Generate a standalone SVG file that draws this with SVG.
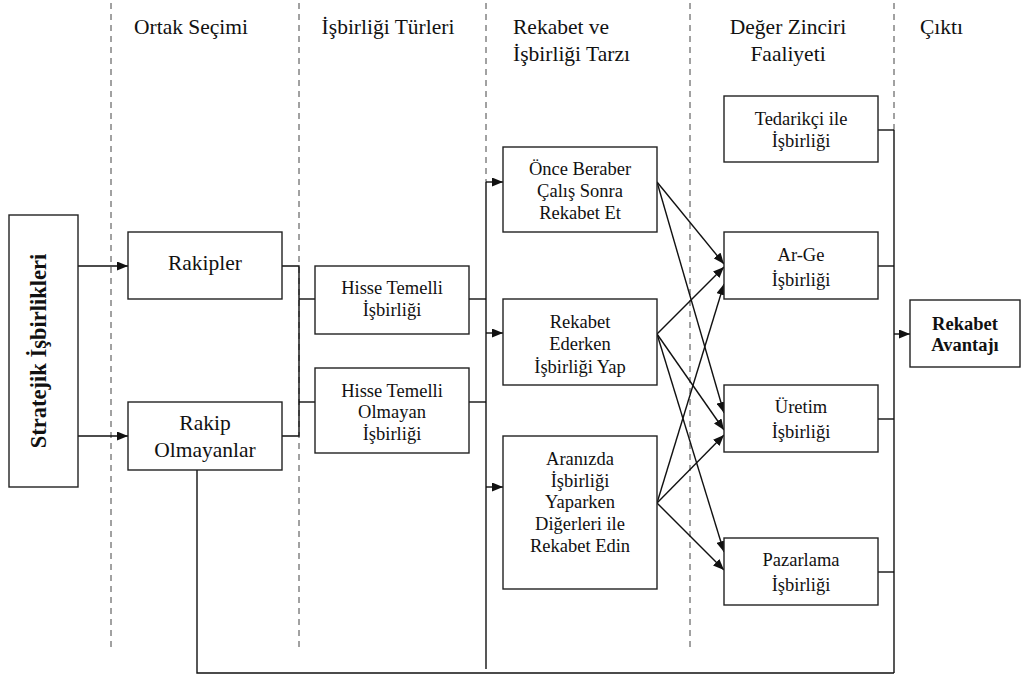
<svg xmlns="http://www.w3.org/2000/svg" width="1022" height="675" viewBox="0 0 1022 675">
<defs>
<style>
.bx{fill:#fff;stroke:#222;stroke-width:1.4}
.ln{fill:none;stroke:#111;stroke-width:1.4}
.ar{fill:none;stroke:#111;stroke-width:1.4;marker-end:url(#ah)}
.ds{fill:none;stroke:#444;stroke-width:1;stroke-dasharray:6 5}
text{font-family:"Liberation Serif","Times New Roman",serif;fill:#111}
.hd{font-size:21.5px}
.t{font-size:18.5px;text-anchor:middle}
.tl{font-size:21.5px;text-anchor:middle}
.b{font-weight:bold}
</style>
<marker id="ah" markerUnits="userSpaceOnUse" markerWidth="11" markerHeight="9" refX="11" refY="4.5" orient="auto">
<path d="M0,0 L11,4.5 L0,9 z" fill="#111"/>
</marker>
</defs>
<rect width="1022" height="675" fill="#fff"/>
<g id="lanes">
<line class="ds" x1="111" y1="3" x2="111" y2="651"/>
<line class="ds" x1="299" y1="3" x2="299" y2="651"/>
<line class="ds" x1="486" y1="3" x2="486" y2="182"/>
<line class="ds" x1="690" y1="3" x2="690" y2="651"/>
<line class="ds" x1="894" y1="3" x2="894" y2="130"/>
</g>
<g id="headers">
<text class="hd" x="191" y="34" text-anchor="middle">Ortak Seçimi</text>
<text class="hd" x="388" y="34" text-anchor="middle">İşbirliği Türleri</text>
<text class="hd" x="513" y="34">Rekabet ve</text>
<text class="hd" x="513" y="61">İşbirliği Tarzı</text>
<text class="hd" x="788" y="34" text-anchor="middle">Değer Zinciri</text>
<text class="hd" x="788" y="61" text-anchor="middle">Faaliyeti</text>
<text class="hd" x="920" y="34">Çıktı</text>
</g>
<g id="connectors">
<line class="ar" x1="78" y1="266" x2="128" y2="266"/>
<line class="ar" x1="78" y1="436" x2="128" y2="436"/>
<polyline class="ln" points="282,266 299,266 299,436 282,436"/>
<line class="ln" x1="299" y1="299" x2="315" y2="299"/>
<line class="ln" x1="299" y1="402" x2="315" y2="402"/>
<line class="ln" x1="469" y1="299" x2="486" y2="299"/>
<line class="ln" x1="469" y1="402" x2="486" y2="402"/>
<line class="ln" x1="486" y1="182" x2="486" y2="669"/>
<line class="ar" x1="486" y1="182" x2="503" y2="182"/>
<line class="ar" x1="486" y1="333" x2="503" y2="333"/>
<line class="ar" x1="486" y1="487" x2="503" y2="487"/>
<line class="ar" x1="657" y1="182" x2="724" y2="264"/>
<line class="ar" x1="657" y1="182" x2="724" y2="413"/>
<line class="ar" x1="657" y1="334" x2="724" y2="267"/>
<line class="ar" x1="657" y1="334" x2="724" y2="430"/>
<line class="ar" x1="657" y1="334" x2="724" y2="552"/>
<line class="ar" x1="657" y1="503" x2="724" y2="284"/>
<line class="ar" x1="657" y1="503" x2="724" y2="435"/>
<line class="ar" x1="657" y1="503" x2="724" y2="570"/>
<line class="ln" x1="878" y1="130" x2="894" y2="130"/>
<line class="ln" x1="878" y1="266" x2="894" y2="266"/>
<line class="ln" x1="878" y1="419" x2="894" y2="419"/>
<line class="ln" x1="878" y1="572" x2="894" y2="572"/>
<line class="ln" x1="894" y1="130" x2="894" y2="673"/>
<line class="ar" x1="894" y1="334" x2="910" y2="334"/>
<polyline class="ln" points="197,470 197,673 894,673"/>
</g>
<g id="stratejik">
<rect class="bx" x="9" y="215" width="69" height="272"/>
<text class="b" font-size="22.5" text-anchor="middle" transform="translate(46,351) rotate(-90)">Stratejik İşbirlikleri</text>
</g>
<g id="rakipler">
<rect class="bx" x="128" y="232" width="154" height="67"/>
<text class="tl" x="205" y="270">Rakipler</text>
</g>
<g id="rakip-olmayanlar">
<rect class="bx" x="128" y="402" width="154" height="68"/>
<text class="tl" x="205" y="430">Rakip</text>
<text class="tl" x="205" y="457">Olmayanlar</text>
</g>
<g id="hisse-temelli">
<rect class="bx" x="315" y="266" width="154" height="68"/>
<text class="t" x="392" y="294">Hisse Temelli</text>
<text class="t" x="392" y="316">İşbirliği</text>
</g>
<g id="hisse-temelli-olmayan">
<rect class="bx" x="315" y="368" width="154" height="85"/>
<text class="t" x="392" y="397">Hisse Temelli</text>
<text class="t" x="392" y="418">Olmayan</text>
<text class="t" x="392" y="440">İşbirliği</text>
</g>
<g id="once-beraber">
<rect class="bx" x="503" y="147" width="154" height="85"/>
<text class="t" x="580" y="175">Önce Beraber</text>
<text class="t" x="580" y="197">Çalış Sonra</text>
<text class="t" x="580" y="219">Rekabet Et</text>
</g>
<g id="rekabet-ederken">
<rect class="bx" x="503" y="299" width="154" height="86"/>
<text class="t" x="580" y="328">Rekabet</text>
<text class="t" x="580" y="350">Ederken</text>
<text class="t" x="580" y="373">İşbirliği Yap</text>
</g>
<g id="aranizda">
<rect class="bx" x="503" y="436" width="154" height="153"/>
<text class="t" x="580" y="465">Aranızda</text>
<text class="t" x="580" y="487">İşbirliği</text>
<text class="t" x="580" y="508">Yaparken</text>
<text class="t" x="580" y="530">Diğerleri ile</text>
<text class="t" x="580" y="552">Rekabet Edin</text>
</g>
<g id="tedarikci">
<rect class="bx" x="724" y="96" width="154" height="66"/>
<text class="t" x="801" y="125">Tedarikçi ile</text>
<text class="t" x="801" y="147">İşbirliği</text>
</g>
<g id="arge">
<rect class="bx" x="724" y="232" width="154" height="67"/>
<text class="t" x="801" y="261">Ar-Ge</text>
<text class="t" x="801" y="286">İşbirliği</text>
</g>
<g id="uretim">
<rect class="bx" x="724" y="385" width="154" height="67"/>
<text class="t" x="801" y="413">Üretim</text>
<text class="t" x="801" y="438">İşbirliği</text>
</g>
<g id="pazarlama">
<rect class="bx" x="724" y="538" width="154" height="67"/>
<text class="t" x="801" y="566">Pazarlama</text>
<text class="t" x="801" y="591">İşbirliği</text>
</g>
<g id="rekabet-avantaji">
<rect class="bx" x="910" y="300" width="110" height="67"/>
<text class="t b" x="965" y="330">Rekabet</text>
<text class="t b" x="965" y="351">Avantajı</text>
</g>
</svg>
